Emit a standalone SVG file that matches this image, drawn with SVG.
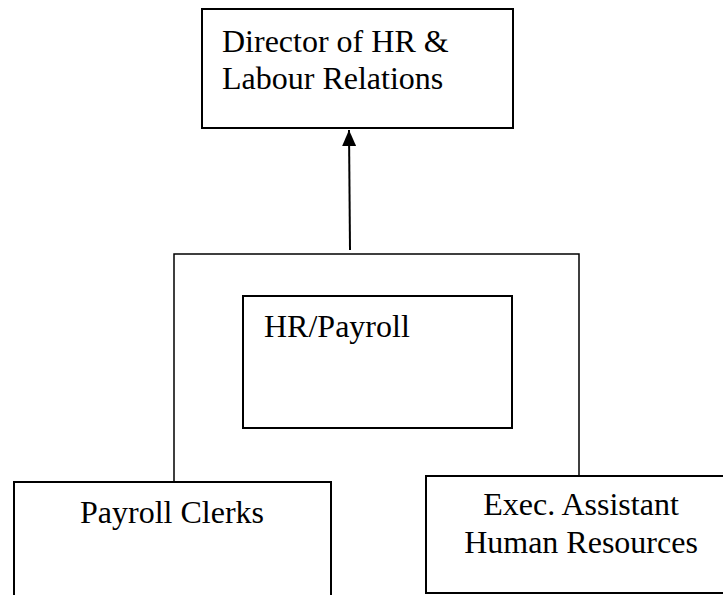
<svg xmlns="http://www.w3.org/2000/svg" width="723" height="595" viewBox="0 0 723 595">
<style>
.box{fill:#fff;stroke:#000;stroke-width:2}
.t{font-family:"Liberation Serif","Times New Roman",serif;font-size:32px;fill:#000}
.c{text-anchor:middle}
.conn{fill:none;stroke:#000;stroke-width:1.5}
</style>
<defs>
<marker id="ah" markerWidth="16" markerHeight="14" refX="16" refY="7" orient="auto" markerUnits="userSpaceOnUse">
<path d="M0,0 L16,7 L0,14 Z" fill="#000"/>
</marker>
</defs>
<rect width="723" height="595" fill="#fff"/>
<g id="connectors">
<polyline class="conn" points="174,482 174,254 579,254 579,476"/>
<line x1="350" y1="250" x2="349" y2="130" stroke="#000" stroke-width="2" marker-end="url(#ah)"/>
</g>
<g id="director">
<rect class="box" x="202" y="9" width="311" height="119"/>
<text class="t" x="222" y="52">Director of HR &amp;</text>
<text class="t" x="222" y="89">Labour Relations</text>
</g>
<g id="hr-payroll">
<rect class="box" x="243" y="296" width="269" height="132"/>
<text class="t" x="264" y="337">HR/Payroll</text>
</g>
<g id="payroll-clerks">
<rect class="box" x="14" y="482" width="317" height="130"/>
<text class="t c" x="172" y="523">Payroll Clerks</text>
</g>
<g id="exec-assistant">
<rect class="box" x="426" y="476" width="310" height="117"/>
<text class="t c" x="581" y="515">Exec. Assistant</text>
<text class="t c" x="581" y="553">Human Resources</text>
</g>
</svg>
